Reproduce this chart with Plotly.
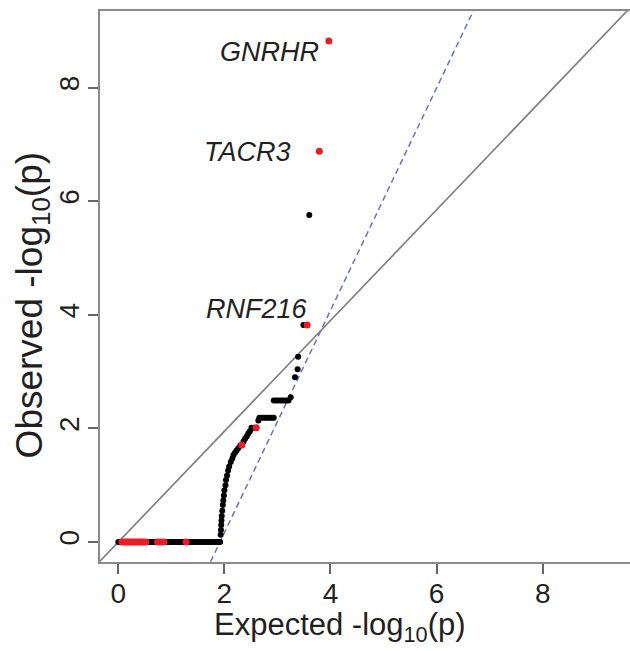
import plotly.graph_objects as go

# ---------------- data ----------------
# flat segment of genes with observed -log10(p) == 0
flat_expected = [0.00, 0.04, 0.08, 0.12, 0.16, 0.20, 0.24, 0.28, 0.32, 0.36,
                 0.40, 0.44, 0.48, 0.52, 0.56, 0.60, 0.64, 0.68, 0.72, 0.76,
                 0.80, 0.84, 0.88, 0.92, 0.96, 1.00, 1.04, 1.08, 1.12, 1.16,
                 1.20, 1.24, 1.28, 1.32, 1.36, 1.40, 1.44, 1.48, 1.52, 1.56,
                 1.60, 1.64, 1.68, 1.72, 1.76, 1.80, 1.84, 1.88, 1.92]
flat_observed = [0.0] * len(flat_expected)

# rising part of the QQ curve (black points)
curve_expected = [1.93, 1.935, 1.94, 1.945, 1.95, 1.96, 1.97, 1.98, 1.99, 2.00,
                  2.02, 2.03, 2.05, 2.07, 2.09, 2.12, 2.15, 2.17, 2.20, 2.23,
                  2.26, 2.30, 2.36, 2.39, 2.42, 2.45, 2.48, 2.51, 2.55, 2.64,
                  2.66, 2.70, 2.74, 2.78, 2.82, 2.86, 2.90, 2.93,
                  2.93, 2.97, 3.01, 3.05, 3.09, 3.13, 3.17, 3.21, 3.25,
                  3.33, 3.38, 3.39, 3.49, 3.60]
curve_observed = [0.13, 0.21, 0.30, 0.38, 0.46, 0.55, 0.65, 0.73, 0.82, 0.91,
                  1.00, 1.09, 1.17, 1.26, 1.33, 1.41, 1.47, 1.53, 1.57, 1.61,
                  1.65, 1.70, 1.77, 1.82, 1.86, 1.91, 1.95, 2.01, 2.01, 2.14,
                  2.19, 2.19, 2.19, 2.19, 2.19, 2.19, 2.19, 2.19,
                  2.49, 2.49, 2.49, 2.49, 2.49, 2.49, 2.49, 2.49, 2.55,
                  2.90, 3.04, 3.26, 3.82, 5.76]

# highlighted genes (red points)
red_expected = [0.07, 0.11, 0.15, 0.19, 0.23, 0.27, 0.31, 0.35, 0.39, 0.43,
                0.47, 0.52, 0.74, 0.80, 0.86, 1.28, 2.33, 2.60, 3.56, 3.79, 3.97]
red_observed = [0.0, 0.0, 0.0, 0.0, 0.0, 0.0, 0.0, 0.0, 0.0, 0.0,
                0.0, 0.0, 0.0, 0.0, 0.0, 0.0, 1.71, 2.01, 3.82, 6.88, 8.82]

# labelled genes
gene_names = ["GNRHR", "TACR3", "RNF216"]
gene_label_x = [3.83, 3.30, 3.62]
gene_label_y = [8.62, 6.86, 4.11]

# reference lines
identity_slope, identity_intercept = 0.975, 0.0
fit_slope, fit_intercept = 1.958, -3.753

x_ticks = [0, 2, 4, 6, 8]
y_ticks = [0, 2, 4, 6, 8]
x_range = [-0.345, 9.646]
y_range = [-0.352, 9.35]

# ---------------- figure ----------------
FONT = "Liberation Sans, Arial, Helvetica, sans-serif"
fig = go.Figure()

xs_line = [x_range[0] - 1, x_range[1] + 1]
fig.add_trace(go.Scatter(
    x=xs_line, y=[identity_slope * v + identity_intercept for v in xs_line],
    mode="lines", line=dict(color="#7c7c7c", width=1.6),
    hoverinfo="skip", showlegend=False))
fig.add_trace(go.Scatter(
    x=xs_line, y=[fit_slope * v + fit_intercept for v in xs_line],
    mode="lines", line=dict(color="#6e6ec8", width=1.5, dash="6px,4px"),
    hoverinfo="skip", showlegend=False))

fig.add_trace(go.Scatter(
    x=flat_expected + curve_expected, y=flat_observed + curve_observed,
    mode="markers", marker=dict(color="black", size=6, line=dict(width=0)),
    showlegend=False))
fig.add_trace(go.Scatter(
    x=red_expected, y=red_observed,
    mode="markers", marker=dict(color="#ec1c24", size=7, line=dict(width=0)),
    showlegend=False))

for name, gx, gy in zip(gene_names, gene_label_x, gene_label_y):
    fig.add_annotation(x=gx, y=gy, xref="x", yref="y", text=f"<i>{name}</i>",
                       showarrow=False, xanchor="right", yanchor="middle",
                       font=dict(family=FONT, size=27, color="#231f20"))

fig.add_annotation(x=0.453, y=-0.118, xref="paper", yref="paper",
                   text="Expected -log<sub>10</sub>(p)", showarrow=False,
                   xanchor="center", yanchor="middle",
                   font=dict(family=FONT, size=31, color="#231f20"))
fig.add_annotation(x=-0.128, y=0.466, xref="paper", yref="paper",
                   text="Observed -log<sub>10</sub>(p)", showarrow=False,
                   textangle=-90, xanchor="center", yanchor="middle",
                   font=dict(family=FONT, size=37, color="#231f20"))

axis_common = dict(showgrid=False, zeroline=False, showline=True,
                   linecolor="#8a8a8a", linewidth=2,
                   ticks="outside", ticklen=10, tickwidth=1.5, tickcolor="#666666",
                   tickfont=dict(family=FONT, size=28, color="#231f20"))
fig.update_xaxes(range=x_range, tickvals=x_ticks, mirror=True,
                 ticklabelstandoff=-5, **axis_common)
fig.update_yaxes(range=y_range, tickvals=y_ticks, tickangle=-90,
                 ticklabelstandoff=-2, **axis_common)

fig.update_layout(width=630, height=651,
                  margin=dict(l=100, r=0, t=11, b=89, pad=0),
                  plot_bgcolor="white", paper_bgcolor="white")

fig.write_html("out.html")
